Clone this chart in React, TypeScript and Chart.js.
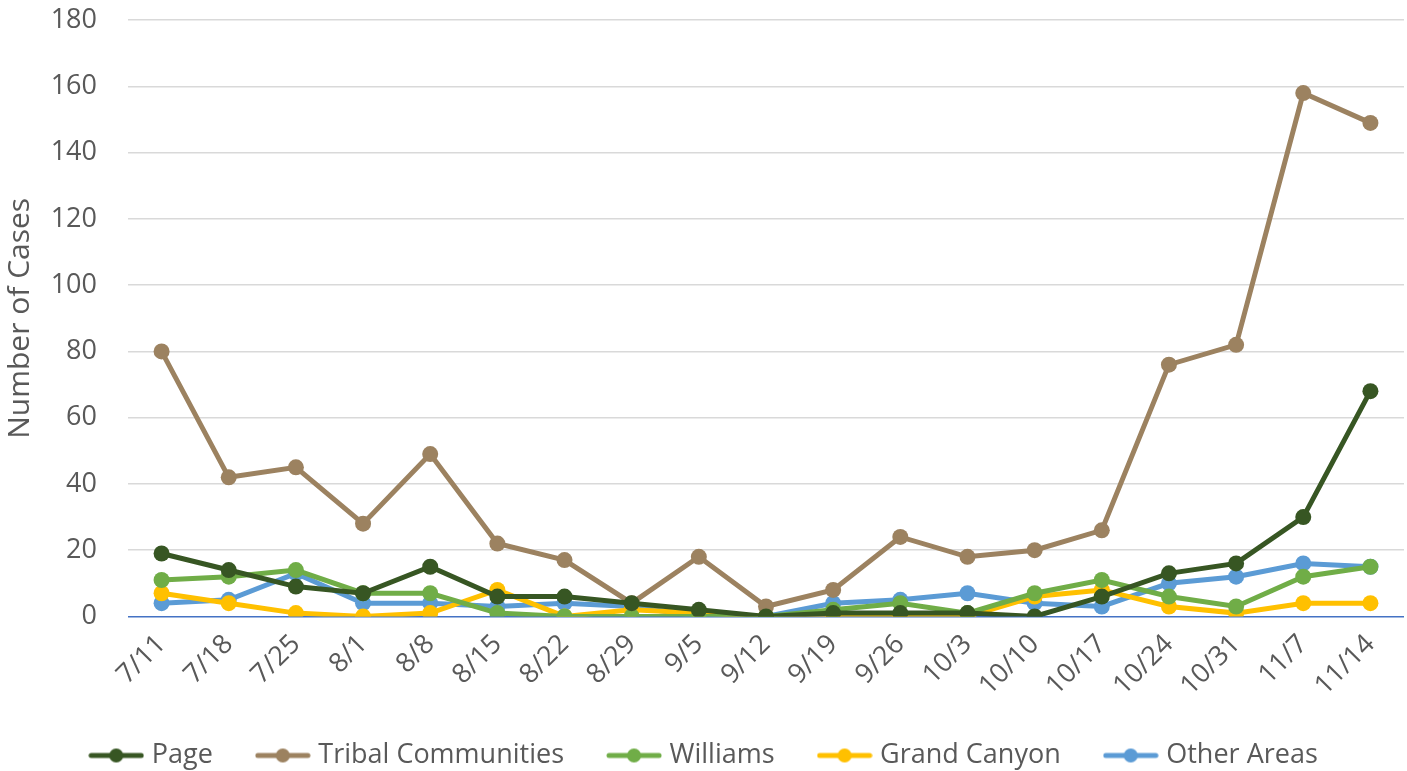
import React, { useEffect, useRef } from "react";
import { Chart, registerables } from "chart.js";

Chart.register(...registerables);

const categories = ["7/11", "7/18", "7/25", "8/1", "8/8", "8/15", "8/22", "8/29", "9/5", "9/12", "9/19", "9/26", "10/3", "10/10", "10/17", "10/24", "10/31", "11/7", "11/14"];
const page = [19, 14, 9, 7, 15, 6, 6, 4, 2, 0, 1, 1, 1, 0, 6, 13, 16, 30, 68];
const tribal = [80, 42, 45, 28, 49, 22, 17, 4, 18, 3, 8, 24, 18, 20, 26, 76, 82, 158, 149];
const williams = [11, 12, 14, 7, 7, 1, 0, 0, 0, 0, 2, 4, 1, 7, 11, 6, 3, 12, 15];
const grandCanyon = [7, 4, 1, 0, 1, 8, 0, 2, 1, 0, 0, 0, 0, 6, 8, 3, 1, 4, 4];
const otherAreas = [4, 5, 13, 4, 4, 3, 4, 3, 0, 0, 4, 5, 7, 4, 3, 10, 12, 16, 15];
const yTicks = [0, 20, 40, 60, 80, 100, 120, 140, 160, 180];

const seriesNames = ["Page", "Tribal Communities", "Williams", "Grand Canyon", "Other Areas"];
const seriesColors = ["#375623", "#9C8260", "#70AD47", "#FFC000", "#5B9BD5"];

const FONT = "'Open Sans', sans-serif";
const TEXT = "#595959";

function legendMarker(color: string): HTMLCanvasElement {
  const c = document.createElement("canvas");
  c.width = 56;
  c.height = 16;
  const ctx = c.getContext("2d")!;
  ctx.strokeStyle = color;
  ctx.lineWidth = 5;
  ctx.lineCap = "round";
  ctx.beginPath();
  ctx.moveTo(3, 8);
  ctx.lineTo(53, 8);
  ctx.stroke();
  ctx.fillStyle = color;
  ctx.beginPath();
  ctx.arc(28, 8, 7, 0, Math.PI * 2);
  ctx.fill();
  return c;
}

export default function App() {
  const ref = useRef<HTMLCanvasElement>(null);
  useEffect(() => {
    const data = [page, tribal, williams, grandCanyon, otherAreas];
    const chart = new Chart(ref.current!, {
      type: "line",
      data: {
        labels: categories,
        datasets: data.map((d, i) => ({
          label: seriesNames[i],
          data: d,
          borderColor: seriesColors[i],
          backgroundColor: seriesColors[i],
          borderWidth: 5,
          pointStyle: "circle",
          pointRadius: 8,
          pointHoverRadius: 8,
          pointBorderWidth: 0,
          tension: 0,
        })),
      },
      options: {
        responsive: false,
        animation: false,
        devicePixelRatio: 1,
        layout: { padding: { top: 0, left: 0, right: 0, bottom: 0 } },
        plugins: {
          tooltip: { enabled: false },
          legend: {
            position: "bottom",
            labels: {
              usePointStyle: true,
              pointStyleWidth: 44,
              padding: 48,
              color: TEXT,
              font: { family: FONT, size: 27 },
              generateLabels: (ch: any) =>
                ch.data.datasets.map((ds: any, i: number) => ({
                  text: ds.label,
                  fillStyle: ds.borderColor,
                  strokeStyle: ds.borderColor,
                  lineWidth: 0,
                  pointStyle: legendMarker(seriesColors[i]),
                  fontColor: TEXT,
                  hidden: false,
                  datasetIndex: i,
                })),
            },
          },
        },
        scales: {
          x: {
            offset: true,
            grid: { display: false },
            border: { display: false },
            afterFit: (s: any) => {
              s.height -= 12;
            },
            ticks: {
              color: TEXT,
              font: { family: FONT, size: 27 },
              maxRotation: 45,
              minRotation: 45,
              autoSkip: false,
              padding: 4,
            },
          },
          y: {
            min: 0,
            max: 180,
            afterBuildTicks: (s: any) => {
              s.ticks = yTicks.map((v) => ({ value: v }));
            },
            afterFit: (s: any) => {
              s.width = 128;
            },
            grid: {
              color: (c: any) => (c.tick && c.tick.value === 0 ? "#4472C4" : "#D9D9D9"),
              lineWidth: 1.5,
              drawTicks: false,
            },
            border: { display: false },
            ticks: {
              color: TEXT,
              font: { family: FONT, size: 27 },
              padding: 31,
            },
            title: {
              display: true,
              text: "Number of Cases",
              color: TEXT,
              font: { family: FONT, size: 30 },
              padding: { top: 2, bottom: 0 },
            },
          },
        },
      },
    });
    return () => chart.destroy();
  }, []);
  return (
    <div style={{ position: "absolute", left: 0, top: 0, width: 1407, height: 771, overflow: "hidden", background: "#fff" }}>
      <canvas ref={ref} width={1412} height={806} style={{ display: "block", position: "absolute", left: 0, top: -27 }} />
    </div>
  );
}
